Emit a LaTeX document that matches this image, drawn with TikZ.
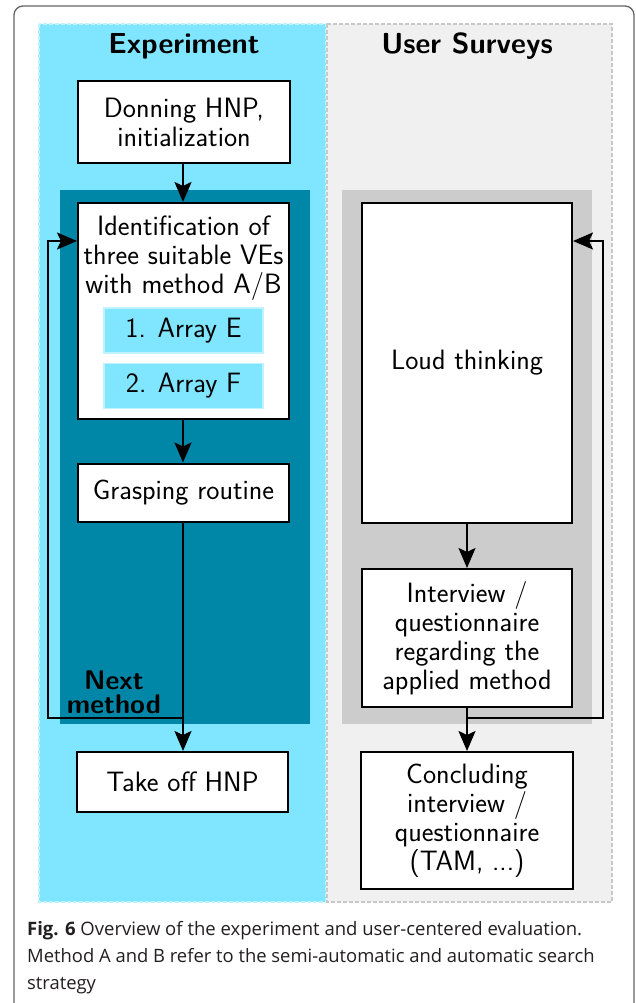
\documentclass[tikz,border=0pt]{standalone}
\usepackage{fontspec}
\newfontfamily\capfont{Open Sans}
\usetikzlibrary{arrows.meta,calc}
\definecolor{expcyan}{RGB}{128,229,255}
\definecolor{expborder}{RGB}{190,242,255}
\definecolor{loopteal}{RGB}{0,135,168}
\definecolor{survbg}{RGB}{240,240,240}
\definecolor{survborder}{RGB}{200,200,200}
\definecolor{loopgray}{RGB}{204,204,204}
\definecolor{framegray}{RGB}{100,100,100}
\definecolor{captext}{RGB}{35,31,32}
\tikzset{
  panel/.style={dashed, line width=1.2pt, dash pattern=on 4pt off 2pt},
  stepbox/.style={draw=black, line width=2pt, fill=white, inner sep=0pt,
    font=\sffamily\fontsize{28}{29}\selectfont, align=center},
  arraybox/.style={draw=expborder, line width=1.5pt, fill=expcyan, inner sep=0pt,
    minimum width=159pt, minimum height=45pt,
    font=\sffamily\fontsize{28}{29}\selectfont},
  txt/.style={inner sep=0pt, font=\sffamily\fontsize{28}{29}\selectfont, align=center},
  title/.style={inner sep=0pt, font=\sffamily\bfseries\fontsize{29}{30}\selectfont},
  flow/.style={line width=2pt, draw=black},
  arr/.style={flow, -{Stealth[length=20pt, width=17pt, inset=4pt]}},
  captxt/.style={anchor=base west, inner sep=0pt, text=captext, font=\capfont\fontsize{18.4}{27}\selectfont},
}
\begin{document}
\begin{tikzpicture}[x=1pt, y=-1pt]
\useasboundingbox (0,0) rectangle (636,1003);
\fill[white] (0,0) rectangle (636,1003);

% figure frame
\draw[framegray, line width=1.3pt, rounded corners=9pt] (14,1020) -- (14,6) -- (634,6) -- (634,1020);

% column panels
\filldraw[fill=expcyan, draw=expborder, panel] (39,24) rectangle (326,902);
\filldraw[fill=survbg, draw=survborder, panel] (327,24) rectangle (612,902);
\node[title] (exptitle) at (184,46) {Experiment};
\node[title] (survtitle) at (467,46) {User Surveys};

% per-method loop backgrounds
\fill[loopteal] (60,190) rectangle (310,724);
\fill[loopgray] (342,190) rectangle (592,724);

% experiment steps
\node[stepbox, minimum width=212pt, minimum height=82pt] (donning) at (184,122) {Donning HNP,\\initialization};
\node[stepbox, minimum width=211pt, minimum height=216pt] (ident) at (183.5,311) {};
\node[txt] (identlbl) at (183.5,258) {Identification of\\three suitable VEs\\with method A/B};
\node[arraybox] (arrE) at (183.5,330.5) {1. Array E};
\node[arraybox] (arrF) at (183.5,386) {2. Array F};
\node[stepbox, minimum width=211pt, minimum height=58pt] (grasp) at (183.5,492.5) {Grasping routine};
\node[stepbox, minimum width=211pt, minimum height=60pt] (takeoff) at (182.5,782) {Take off HNP};
\node[txt, font=\sffamily\bfseries\fontsize{27}{24}\selectfont] (nextm) at (114,692) {Next\\method};

% survey steps
\node[stepbox, minimum width=210pt, minimum height=320pt] (loud) at (467,363) {Loud thinking};
\node[stepbox, minimum width=210pt, minimum height=138pt] (interview) at (467,638) {Interview /\\questionnaire\\regarding the\\applied method};
\node[stepbox, minimum width=212pt, minimum height=137pt] (conclude) at (467,820.5) {Concluding\\interview /\\questionnaire\\(TAM, ...)};

% experiment connectors
\coordinate (expjoin) at (183,718);
\coordinate (exploop) at (48,718);
\coordinate (expentry) at (48,241);
\draw[arr] (donning.south -| 183,0) -- (ident.north -| 183,0);
\draw[arr] (ident.south -| 183,0) -- (grasp.north -| 183,0);
\draw[flow] (grasp.south -| 183,0) -- (expjoin);
\draw[arr] (expjoin) -- (takeoff.north -| 183,0);
\draw[arr] (expjoin) -- (exploop) -- (expentry) -- (ident.west |- expentry);

% survey connectors
\coordinate (survjoin) at (467,718);
\coordinate (survloop) at (603,718);
\coordinate (surventry) at (603,241);
\draw[arr] (loud.south) -- (interview.north);
\draw[flow] (interview.south) -- (survjoin);
\draw[arr] (survjoin) -- (conclude.north);
\draw[arr] (survjoin) -- (survloop) -- (surventry) -- (loud.east |- surventry);

% caption
\node[captxt, font=\capfont\fontsize{18.5}{27}\selectfont] (cap1) at (27,935)
  {{\bfseries Fig. 6} Overview of the experiment and user-centered evaluation.};
\node[captxt] (cap2) at (27,962)
  {Method A and B refer to the semi-automatic and automatic search};
\node[captxt] (cap3) at (27,989)
  {strategy};
\end{tikzpicture}
\end{document}
